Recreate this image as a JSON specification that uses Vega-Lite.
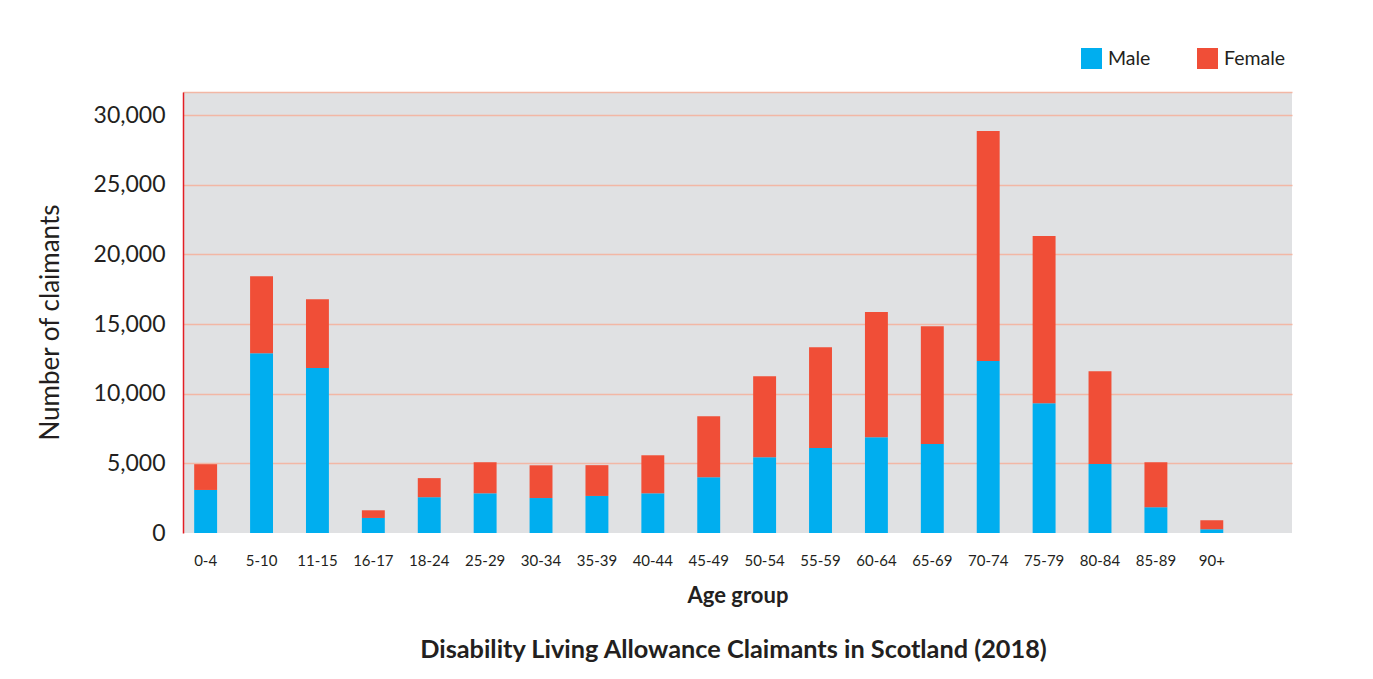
{
  "$schema": "https://vega.github.io/schema/vega-lite/v6.json",
  "width": 1109,
  "height": 441,
  "autosize": {"type": "none"},
  "padding": {"left": 183, "top": 92, "right": 81, "bottom": 146},
  "background": "white",
  "title": {
    "text": "Disability Living Allowance Claimants in Scotland (2018)",
    "orient": "bottom",
    "anchor": "middle",
    "font": "Lato",
    "fontSize": 25.3,
    "fontWeight": "bold",
    "color": "#231f20",
    "offset": 32,
    "dx": -4
  },
  "data": {
    "values": [
      {"age": "0-4", "sex": "Male", "count": 3090},
      {"age": "0-4", "sex": "Female", "count": 1850},
      {"age": "5-10", "sex": "Male", "count": 12910},
      {"age": "5-10", "sex": "Female", "count": 5530},
      {"age": "11-15", "sex": "Male", "count": 11850},
      {"age": "11-15", "sex": "Female", "count": 4940},
      {"age": "16-17", "sex": "Male", "count": 1080},
      {"age": "16-17", "sex": "Female", "count": 550},
      {"age": "18-24", "sex": "Male", "count": 2570},
      {"age": "18-24", "sex": "Female", "count": 1370},
      {"age": "25-29", "sex": "Male", "count": 2850},
      {"age": "25-29", "sex": "Female", "count": 2230},
      {"age": "30-34", "sex": "Male", "count": 2510},
      {"age": "30-34", "sex": "Female", "count": 2350},
      {"age": "35-39", "sex": "Male", "count": 2660},
      {"age": "35-39", "sex": "Female", "count": 2210},
      {"age": "40-44", "sex": "Male", "count": 2850},
      {"age": "40-44", "sex": "Female", "count": 2730},
      {"age": "45-49", "sex": "Male", "count": 4000},
      {"age": "45-49", "sex": "Female", "count": 4380},
      {"age": "50-54", "sex": "Male", "count": 5440},
      {"age": "50-54", "sex": "Female", "count": 5820},
      {"age": "55-59", "sex": "Male", "count": 6110},
      {"age": "55-59", "sex": "Female", "count": 7230},
      {"age": "60-64", "sex": "Male", "count": 6880},
      {"age": "60-64", "sex": "Female", "count": 8980},
      {"age": "65-69", "sex": "Male", "count": 6390},
      {"age": "65-69", "sex": "Female", "count": 8460},
      {"age": "70-74", "sex": "Male", "count": 12340},
      {"age": "70-74", "sex": "Female", "count": 16520},
      {"age": "75-79", "sex": "Male", "count": 9320},
      {"age": "75-79", "sex": "Female", "count": 12000},
      {"age": "80-84", "sex": "Male", "count": 4960},
      {"age": "80-84", "sex": "Female", "count": 6660},
      {"age": "85-89", "sex": "Male", "count": 1850},
      {"age": "85-89", "sex": "Female", "count": 3230},
      {"age": "90+", "sex": "Male", "count": 270},
      {"age": "90+", "sex": "Female", "count": 640}
    ]
  },
  "mark": {"type": "bar"},
  "encoding": {
    "x": {
      "field": "age",
      "type": "nominal",
      "sort": ["0-4", "5-10", "11-15", "16-17", "18-24", "25-29", "30-34", "35-39", "40-44", "45-49", "50-54", "55-59", "60-64", "65-69", "70-74", "75-79", "80-84", "85-89", "90+"],
      "scale": {"paddingInner": 0.59, "paddingOuter": 0.715, "align": 0.14},
      "axis": {
        "title": "Age group",
        "labelAngle": 0,
        "ticks": false,
        "domain": false,
        "grid": false,
        "labelFont": "Lato",
        "labelFontSize": 15,
        "labelColor": "#231f20",
        "labelPadding": 20,
        "titleFont": "Lato",
        "titleFontSize": 22,
        "titleFontWeight": "bold",
        "titleColor": "#231f20",
        "titlePadding": 17
      }
    },
    "y": {
      "field": "count",
      "type": "quantitative",
      "stack": "zero",
      "scale": {"domain": [0, 31660], "nice": false},
      "axis": {
        "title": "Number of claimants",
        "values": [0, 5000, 10000, 15000, 20000, 25000, 30000, 31660],
        "labelExpr": "datum.value > 30000 ? '' : format(datum.value, ',')",
        "ticks": false,
        "domain": true,
        "domainColor": "#e31e24",
        "domainWidth": 1.5,
        "grid": true,
        "gridColor": {"condition": {"test": "datum.value == 0", "value": "transparent"}, "value": "#f2b7a5"},
        "gridWidth": 1.5,
        "gridOpacity": 1,
        "labelFont": "Lato",
        "labelFontSize": 23,
        "labelColor": "#231f20",
        "labelPadding": 18,
        "titleFont": "Lato",
        "titleFontSize": 26,
        "titleFontWeight": "normal",
        "titleColor": "#231f20",
        "titlePadding": 30,
        "titleY": 230
      }
    },
    "color": {
      "field": "sex",
      "type": "nominal",
      "scale": {"domain": ["Male", "Female"], "range": ["#00aeef", "#f04e37"]},
      "legend": {
        "title": null,
        "orient": "none",
        "legendX": 898,
        "legendY": -44,
        "direction": "horizontal",
        "symbolType": "square",
        "symbolSize": 441,
        "symbolStrokeWidth": 0,
        "symbolOpacity": 1,
        "labelFont": "Lato",
        "labelFontSize": 19.5,
        "labelColor": "#231f20",
        "labelOffset": 6,
        "columnPadding": 46
      }
    },
    "order": {"field": "sex", "sort": "descending"}
  },
  "config": {
    "view": {"fill": "#e0e1e3", "stroke": null}
  }
}
